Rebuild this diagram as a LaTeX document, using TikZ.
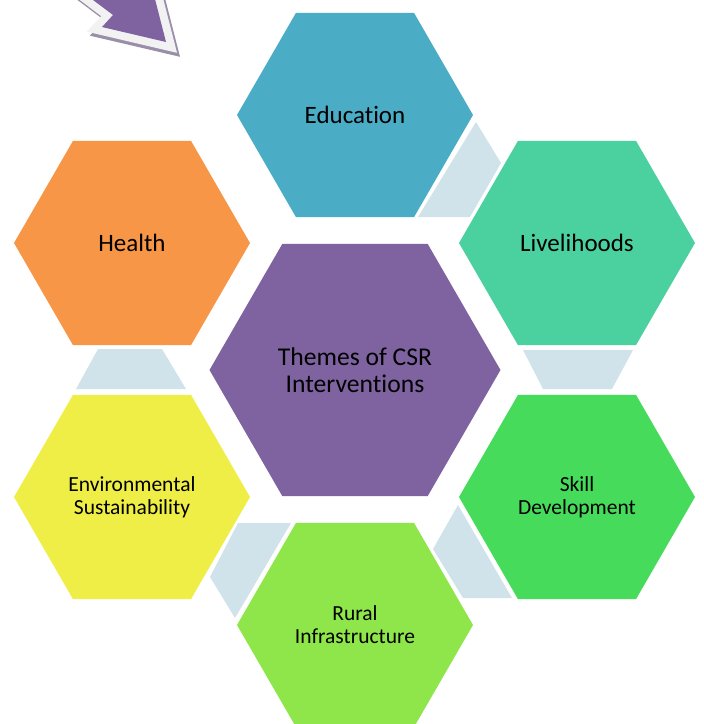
\documentclass[tikz,border=0pt]{standalone}
\usepackage{fontspec}
\setmainfont[Ligatures=NoCommon]{Carlito}
\usetikzlibrary{shapes.geometric}
\definecolor{eduC}{HTML}{4BACC6}
\definecolor{livC}{HTML}{4BD0A0}
\definecolor{healthC}{HTML}{F79646}
\definecolor{centerC}{HTML}{7F63A1}
\definecolor{skillC}{HTML}{46DB5A}
\definecolor{envC}{HTML}{EEEE46}
\definecolor{ruralC}{HTML}{8EE64A}
\definecolor{bandC}{HTML}{D0E2EA}
\definecolor{rimC}{HTML}{F2F2F2}
\definecolor{shadowC}{HTML}{9A8FA8}
\begin{document}
\begin{tikzpicture}[x=0.5pt,y=-0.5pt,
  hexbox/.style={regular polygon, regular polygon sides=6, minimum size=118pt,
    inner sep=0pt, outer sep=0pt, draw=none, align=center, text=black,
    font=\fontsize{12.5}{15}\selectfont},
  hexsmall/.style={hexbox, font=\fontsize{10.75}{11.5}\selectfont},
  hexbig/.style={hexbox, minimum size=145.5pt, font=\fontsize{12.8}{13.8}\selectfont},
  band/.style={fill=bandC, draw=none}]
\useasboundingbox (0,0) rectangle (704,724);
% bands
\fill[band] (476,122) -- (501,163) -- (470,217) -- (418,217) -- cycle;
\fill[band] (523,350) -- (633,350) -- (612,389) -- (543,389) -- cycle;
\fill[band] (458,505) -- (512,598) -- (463,598) -- (433,549) -- cycle;
\fill[band] (238,523) -- (291,523) -- (235,618) -- (210,577) -- cycle;
\fill[band] (98,349) -- (162,349) -- (186,389) -- (76,389) -- cycle;
% hexagons
\node[hexbox, fill=eduC] (edu) at (355,115) {Education};
\node[hexbox, fill=livC] (liv) at (577,243) {Livelihoods};
\node[hexsmall, fill=skillC] (skill) at (577,497) {Skill\\Development};
\node[hexsmall, fill=ruralC] (rural) at (355,625) {Rural\\Infrastructure};
\node[hexsmall, fill=envC] (env) at (132,497) {Environmental\\Sustainability};
\node[hexbox, fill=healthC] (health) at (132,243) {Health};
\node[hexbig, fill=centerC] (core) at (355,370) {Themes of CSR\\Interventions};
% arrow
\coordinate (a1) at (40,-40);
\coordinate (a2) at (113,15);
\coordinate (a3) at (102,27);
\coordinate (a4) at (166,42);
\coordinate (a5) at (145,-40);
\fill[shadowC, draw=shadowC, line width=8pt, line join=miter]
  ([shift={(3,4)}]a1) -- ([shift={(3,4)}]a2) -- ([shift={(3,4)}]a3) -- ([shift={(3,4)}]a4) -- ([shift={(3,4)}]a5) -- cycle;
\fill[rimC, draw=rimC, line width=8pt, line join=miter]
  (a1) -- (a2) -- (a3) -- (a4) -- (a5) -- cycle;
\fill[centerC] (a1) -- (a2) -- (a3) -- (a4) -- (a5) -- cycle;
\end{tikzpicture}
\end{document}
